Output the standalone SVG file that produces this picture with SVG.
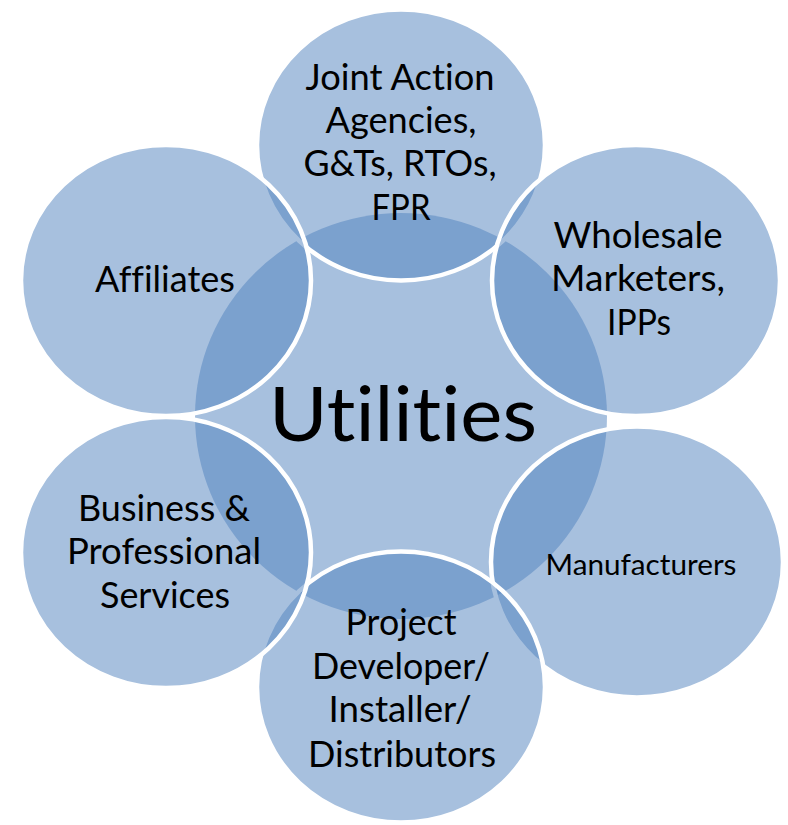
<svg xmlns="http://www.w3.org/2000/svg" width="788" height="825" viewBox="0 0 788 825">
<style>
.c{fill:#4F81BD;fill-opacity:0.5;stroke:#FFFFFF;stroke-width:4.5}
.hub{fill:#4F81BD;fill-opacity:0.5;stroke:none}
.t{font-family:Lato,"Open Sans","Liberation Sans",sans-serif;font-size:37px;fill:#000;text-anchor:middle;font-variant-ligatures:none;font-feature-settings:"liga" 0,"dlig" 0}
.m{font-size:29px}
.u{font-size:76px}
</style>
<rect width="788" height="825" fill="#FFFFFF"/>
<g id="utilities">
<ellipse class="hub" cx="401" cy="416" rx="206" ry="203"/>
</g>
<g id="joint-action">
<ellipse class="c" cx="401" cy="145" rx="144" ry="135.5"/>
</g>
<g id="wholesale">
<ellipse class="c" cx="636" cy="280.5" rx="144" ry="135.5"/>
</g>
<g id="manufacturers">
<ellipse class="c" cx="637" cy="562" rx="146" ry="135.5"/>
</g>
<g id="project">
<ellipse class="c" cx="401" cy="687" rx="144" ry="135.5"/>
</g>
<g id="business">
<ellipse class="c" cx="166" cy="552.5" rx="145" ry="135.5"/>
</g>
<g id="affiliates">
<ellipse class="c" cx="166" cy="280.5" rx="145" ry="135.5"/>
</g>
<g id="connectors"></g>
<g id="labels">
<text class="t u" x="403" y="441" textLength="268" lengthAdjust="spacingAndGlyphs">Utilities</text>
<text class="t" x="400" y="89.5" textLength="189" lengthAdjust="spacingAndGlyphs">Joint Action</text>
<text class="t" x="401" y="133" textLength="151" lengthAdjust="spacingAndGlyphs">Agencies,</text>
<text class="t" x="400" y="176" textLength="193" lengthAdjust="spacingAndGlyphs">G&amp;Ts, RTOs,</text>
<text class="t" x="401" y="220" textLength="59" lengthAdjust="spacingAndGlyphs">FPR</text>
<text class="t" x="638" y="248" textLength="169" lengthAdjust="spacingAndGlyphs">Wholesale</text>
<text class="t" x="638" y="291" textLength="174" lengthAdjust="spacingAndGlyphs">Marketers,</text>
<text class="t" x="639" y="335" textLength="64" lengthAdjust="spacingAndGlyphs">IPPs</text>
<text class="t" x="165" y="292" textLength="140" lengthAdjust="spacingAndGlyphs">Affiliates</text>
<text class="t" x="164" y="521" textLength="172" lengthAdjust="spacingAndGlyphs">Business &amp;</text>
<text class="t" x="164" y="564" textLength="194" lengthAdjust="spacingAndGlyphs">Professional</text>
<text class="t" x="165" y="608" textLength="130" lengthAdjust="spacingAndGlyphs">Services</text>
<text class="t m" x="641" y="575" textLength="191" lengthAdjust="spacingAndGlyphs">Manufacturers</text>
<text class="t" x="401" y="635" textLength="111" lengthAdjust="spacingAndGlyphs">Project</text>
<text class="t" x="401" y="679" textLength="178" lengthAdjust="spacingAndGlyphs">Developer/</text>
<text class="t" x="400" y="722" textLength="143" lengthAdjust="spacingAndGlyphs">Installer/</text>
<text class="t" x="402" y="767" textLength="188" lengthAdjust="spacingAndGlyphs">Distributors</text>
</g>
</svg>
